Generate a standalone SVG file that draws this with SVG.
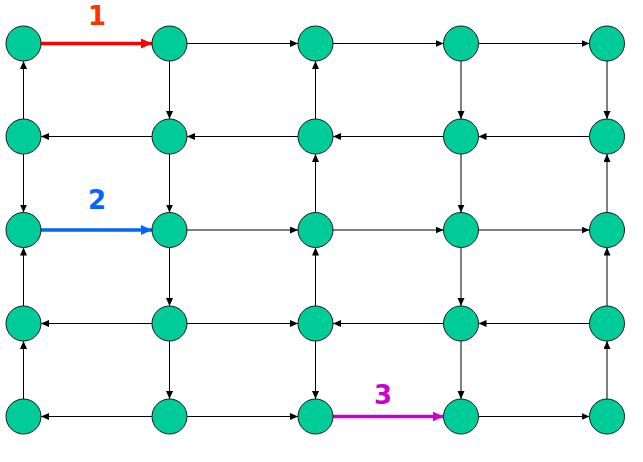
<svg xmlns="http://www.w3.org/2000/svg" width="643" height="462" viewBox="0 0 643 462">
<style>
.n{fill:#00CC99;stroke:#1a1a1a;stroke-width:1}
.e{stroke:#000;stroke-width:1;fill:none;marker-end:url(#ab)}
.lbl{font-family:"DejaVu Sans",sans-serif;font-weight:bold;font-size:26px;text-anchor:middle}
</style>
<defs>
<marker id="ab" markerUnits="userSpaceOnUse" markerWidth="9" markerHeight="8" refX="8" refY="3.5" orient="auto"><path d="M0,0 L8,3.5 L0,7 z" fill="#000"/></marker>
<marker id="ar" markerUnits="userSpaceOnUse" markerWidth="12" markerHeight="11" refX="11" refY="5" orient="auto"><path d="M0,0 L11,5 L0,10 z" fill="#FF0000"/></marker>
<marker id="abl" markerUnits="userSpaceOnUse" markerWidth="12" markerHeight="11" refX="11" refY="5" orient="auto"><path d="M0,0 L11,5 L0,10 z" fill="#0066FF"/></marker>
<marker id="am" markerUnits="userSpaceOnUse" markerWidth="12" markerHeight="11" refX="11" refY="5" orient="auto"><path d="M0,0 L11,5 L0,10 z" fill="#CC00CC"/></marker>
</defs>
<g id="connectors">
<line x1="41" y1="43.5" x2="152" y2="43.5" stroke="#FF0000" stroke-width="3.5" marker-end="url(#ar)"/>
<line class="e" x1="187" y1="43.5" x2="298" y2="43.5"/>
<line class="e" x1="333" y1="43.5" x2="443.5" y2="43.5"/>
<line class="e" x1="478.5" y1="43.5" x2="589.5" y2="43.5"/>
<line class="e" x1="152" y1="136.5" x2="41" y2="136.5"/>
<line class="e" x1="298" y1="136.5" x2="187" y2="136.5"/>
<line class="e" x1="443.5" y1="136.5" x2="333" y2="136.5"/>
<line class="e" x1="589.5" y1="136.5" x2="478.5" y2="136.5"/>
<line x1="41" y1="230" x2="152" y2="230" stroke="#0066FF" stroke-width="3.5" marker-end="url(#abl)"/>
<line class="e" x1="187" y1="230" x2="298" y2="230"/>
<line class="e" x1="333" y1="230" x2="443.5" y2="230"/>
<line class="e" x1="478.5" y1="230" x2="589.5" y2="230"/>
<line class="e" x1="152" y1="323.5" x2="41" y2="323.5"/>
<line class="e" x1="187" y1="323.5" x2="298" y2="323.5"/>
<line class="e" x1="443.5" y1="323.5" x2="333" y2="323.5"/>
<line class="e" x1="589.5" y1="323.5" x2="478.5" y2="323.5"/>
<line class="e" x1="152" y1="416.5" x2="41" y2="416.5"/>
<line class="e" x1="187" y1="416.5" x2="298" y2="416.5"/>
<line x1="333" y1="416.5" x2="443.5" y2="416.5" stroke="#CC00CC" stroke-width="3.5" marker-end="url(#am)"/>
<line class="e" x1="478.5" y1="416.5" x2="589.5" y2="416.5"/>
<line class="e" x1="23.5" y1="119" x2="23.5" y2="61"/>
<line class="e" x1="23.5" y1="154" x2="23.5" y2="212.5"/>
<line class="e" x1="23.5" y1="306" x2="23.5" y2="247.5"/>
<line class="e" x1="23.5" y1="399" x2="23.5" y2="341"/>
<line class="e" x1="169.5" y1="61" x2="169.5" y2="119"/>
<line class="e" x1="169.5" y1="154" x2="169.5" y2="212.5"/>
<line class="e" x1="169.5" y1="247.5" x2="169.5" y2="306"/>
<line class="e" x1="169.5" y1="341" x2="169.5" y2="399"/>
<line class="e" x1="315.5" y1="119" x2="315.5" y2="61"/>
<line class="e" x1="315.5" y1="212.5" x2="315.5" y2="154"/>
<line class="e" x1="315.5" y1="306" x2="315.5" y2="247.5"/>
<line class="e" x1="315.5" y1="341" x2="315.5" y2="399"/>
<line class="e" x1="461" y1="61" x2="461" y2="119"/>
<line class="e" x1="461" y1="154" x2="461" y2="212.5"/>
<line class="e" x1="461" y1="247.5" x2="461" y2="306"/>
<line class="e" x1="461" y1="341" x2="461" y2="399"/>
<line class="e" x1="607" y1="61" x2="607" y2="119"/>
<line class="e" x1="607" y1="212.5" x2="607" y2="154"/>
<line class="e" x1="607" y1="306" x2="607" y2="247.5"/>
<line class="e" x1="607" y1="399" x2="607" y2="341"/>
</g>
<g id="labels">
<text class="lbl" x="97" y="25" fill="#FF3300">1</text>
<text class="lbl" x="97" y="209" fill="#0066FF">2</text>
<text class="lbl" x="383" y="404" fill="#CC00CC">3</text>
</g>
<g id="n11"><circle class="n" cx="23.5" cy="43.5" r="17.5"/></g>
<g id="n12"><circle class="n" cx="169.5" cy="43.5" r="17.5"/></g>
<g id="n13"><circle class="n" cx="315.5" cy="43.5" r="17.5"/></g>
<g id="n14"><circle class="n" cx="461" cy="43.5" r="17.5"/></g>
<g id="n15"><circle class="n" cx="607" cy="43.5" r="17.5"/></g>
<g id="n21"><circle class="n" cx="23.5" cy="136.5" r="17.5"/></g>
<g id="n22"><circle class="n" cx="169.5" cy="136.5" r="17.5"/></g>
<g id="n23"><circle class="n" cx="315.5" cy="136.5" r="17.5"/></g>
<g id="n24"><circle class="n" cx="461" cy="136.5" r="17.5"/></g>
<g id="n25"><circle class="n" cx="607" cy="136.5" r="17.5"/></g>
<g id="n31"><circle class="n" cx="23.5" cy="230" r="17.5"/></g>
<g id="n32"><circle class="n" cx="169.5" cy="230" r="17.5"/></g>
<g id="n33"><circle class="n" cx="315.5" cy="230" r="17.5"/></g>
<g id="n34"><circle class="n" cx="461" cy="230" r="17.5"/></g>
<g id="n35"><circle class="n" cx="607" cy="230" r="17.5"/></g>
<g id="n41"><circle class="n" cx="23.5" cy="323.5" r="17.5"/></g>
<g id="n42"><circle class="n" cx="169.5" cy="323.5" r="17.5"/></g>
<g id="n43"><circle class="n" cx="315.5" cy="323.5" r="17.5"/></g>
<g id="n44"><circle class="n" cx="461" cy="323.5" r="17.5"/></g>
<g id="n45"><circle class="n" cx="607" cy="323.5" r="17.5"/></g>
<g id="n51"><circle class="n" cx="23.5" cy="416.5" r="17.5"/></g>
<g id="n52"><circle class="n" cx="169.5" cy="416.5" r="17.5"/></g>
<g id="n53"><circle class="n" cx="315.5" cy="416.5" r="17.5"/></g>
<g id="n54"><circle class="n" cx="461" cy="416.5" r="17.5"/></g>
<g id="n55"><circle class="n" cx="607" cy="416.5" r="17.5"/></g>
</svg>
